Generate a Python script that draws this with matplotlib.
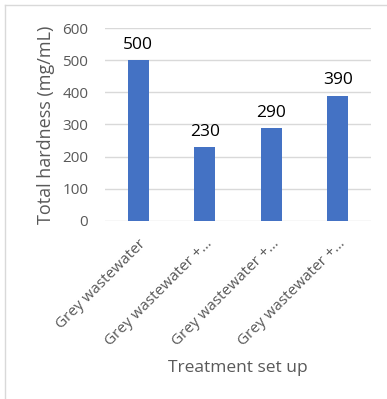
import matplotlib.pyplot as plt
from matplotlib.lines import Line2D

categories = ['Grey wastewater', 'Grey wastewater +…', 'Grey wastewater +…', 'Grey wastewater +…']
hardness = [500, 230, 290, 390]
yticks = [0, 100, 200, 300, 400, 500, 600]

plt.rcParams['font.family'] = ['Open Sans', 'DejaVu Sans']

fig = plt.figure(figsize=(3.87, 3.99), dpi=100)
ax = fig.add_axes([105 / 387, 1 - 221 / 399, 266 / 387, 193 / 399])

x = range(len(categories))
ax.bar(x, hardness, width=0.32, color='#4472c4', zorder=3)
for xi, v in zip(x, hardness):
    ax.text(xi, v + 22, str(v), ha='center', va='bottom', fontsize=12.5, color='black')

ax.set_xlim(-0.5, len(categories) - 0.5)
ax.set_ylim(0, 600)
ax.set_yticks(yticks)
ax.grid(axis='y', color='#d9d9d9', linewidth=1, zorder=0)
for s in ax.spines.values():
    s.set_visible(False)
ax.tick_params(length=0, colors='#595959')
ax.tick_params(axis='y', pad=12, labelsize=11)
ax.set_xticks(list(x))
ax.set_xticklabels(categories, rotation=45, ha='right', rotation_mode='anchor', fontsize=11)
ax.tick_params(axis='x', pad=11)

ax.set_xlabel('Treatment set up', fontsize=12.5, color='#595959', labelpad=8)
ax.set_ylabel('Total hardness (mg/mL)', fontsize=13, color='#595959', labelpad=5)

# thin chart-area border
fig.add_artist(Line2D([5 / 387, 5 / 387], [0, 1 - 5 / 399], color='#d9d9d9', lw=1))
fig.add_artist(Line2D([5 / 387, 1], [1 - 5 / 399, 1 - 5 / 399], color='#d9d9d9', lw=1))

fig.savefig('out.png', dpi=100)
